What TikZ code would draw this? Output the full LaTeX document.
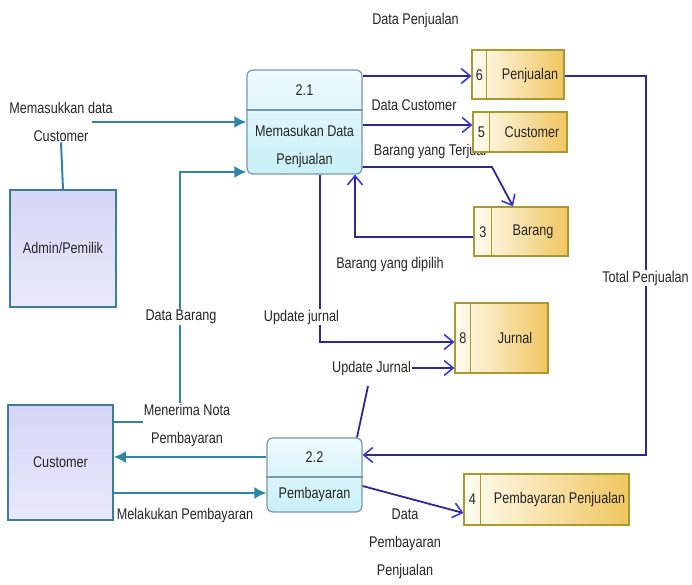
\documentclass[tikz,border=0pt]{standalone}
\usepackage{fontspec}
\setmainfont{Liberation Sans}[FakeStretch=0.815]
\usetikzlibrary{arrows.meta,calc}

\definecolor{flowteal}{HTML}{2F85A5}
\definecolor{flowblue}{HTML}{2A2A96}
\definecolor{tipblue}{HTML}{3A3AD6}
\definecolor{procline}{HTML}{7A98A8}
\definecolor{procTop}{HTML}{EEFBFE}
\definecolor{procBot}{HTML}{C8EFF7}
\definecolor{entline}{HTML}{3A7F95}
\definecolor{entTop}{HTML}{D4D6F6}
\definecolor{entBot}{HTML}{E8EAFA}
\definecolor{storeline}{HTML}{A89A30}
\definecolor{storeL}{HTML}{FFFDF2}
\definecolor{storeR}{HTML}{F0C660}

\tikzset{
  lbl/.style={font=\fontsize{15.5}{28}\selectfont, align=center, inner sep=1pt, text=black!85},
  lblbg/.style={lbl, fill=white},
  tealflow/.style={draw=flowteal, line width=2pt},
  tealarrow/.style={tealflow, -{Latex[length=12pt,width=12pt]}},
  blueflow/.style={draw=flowblue, line width=1.8pt},
  bluearrow/.style={blueflow, -{Straight Barb[length=9pt,width=15pt,line width=1.6pt,color=tipblue]}},
  process/.style={draw=procline, line width=1.2pt, rounded corners=6pt, top color=procTop, bottom color=procBot},
  divider/.style={draw=procline, line width=1.2pt},
  entity/.style={draw=entline, line width=1.6pt, top color=entTop, bottom color=entBot},
  store/.style={draw=storeline, line width=1.2pt, left color=storeL, right color=storeR},
  storediv/.style={draw=storeline, line width=1.2pt},
}

\begin{document}
\begin{tikzpicture}[x=1pt,y=-1pt]
\useasboundingbox[fill=white] (0,0) rectangle (692,585);

% ---------- processes ----------
\node[process, minimum width=115pt, minimum height=104pt] (p21) at (304.5,122) {};
\draw[divider] (p21.west |- 0,110) -- (p21.east |- 0,110);
\node[lbl] (p21id) at (304.5,90) {2.1};
\node[lbl] (p21name) at (304.5,146) {Memasukan Data\\Penjualan};

\node[process, minimum width=95pt, minimum height=74pt] (p22) at (314.5,475) {};
\draw[divider] (p22.west |- 0,477) -- (p22.east |- 0,477);
\node[lbl] (p22id) at (314.5,457) {2.2};
\node[lbl] (p22name) at (314.5,494) {Pembayaran};

% ---------- external entities ----------
\node[entity, minimum width=106pt, minimum height=117pt] (admin) at (63,248.5) {};
\node[lbl] (adminname) at (63,248) {Admin/Pemilik};

\node[entity, minimum width=105pt, minimum height=115pt] (cust) at (60.5,462.5) {};
\node[lbl] (custname) at (60.5,462) {Customer};

% ---------- labels drawn beneath the stores ----------
\node[lbl] (lblBT) at (430,151) {Barang yang Terjual};

% ---------- data stores ----------
\node[store, minimum width=92pt, minimum height=49pt] (s6) at (518,74.5) {};
\draw[storediv] ([xshift=15pt]s6.north west) -- ([xshift=15pt]s6.south west);
\node[lbl] (s6id) at (479.5,75) {6};
\node[lbl] (s6name) at (530,75) {Penjualan};

\node[store, minimum width=94pt, minimum height=40pt] (s5) at (520,132) {};
\draw[storediv] ([xshift=17pt]s5.north west) -- ([xshift=17pt]s5.south west);
\node[lbl] (s5id) at (481.5,132) {5};
\node[lbl] (s5name) at (532,132) {Customer};

\node[store, minimum width=94pt, minimum height=49pt] (s3) at (521,231.5) {};
\draw[storediv] ([xshift=18pt]s3.north west) -- ([xshift=18pt]s3.south west);
\node[lbl] (s3id) at (483,232) {3};
\node[lbl] (s3name) at (533,232) {Barang};

\node[store, minimum width=93pt, minimum height=70pt] (s8) at (501.5,338) {};
\draw[storediv] ([xshift=16pt]s8.north west) -- ([xshift=16pt]s8.south west);
\node[lbl] (s8id) at (463,338) {8};
\node[lbl] (s8name) at (515,338) {Jurnal};

\node[store, minimum width=165pt, minimum height=51pt] (s4) at (546.5,499.5) {};
\draw[storediv] ([xshift=17pt]s4.north west) -- ([xshift=17pt]s4.south west);
\node[lbl] (s4id) at (472.5,499) {4};
\node[lbl] (s4name) at (559.5,499) {Pembayaran Penjualan};

% ---------- labels ----------
\node[lbl] (lblMDC) at (61,121.5) {Memasukkan data\\Customer};
\node[lbl] (lblDP) at (415.5,20) {Data Penjualan};
\node[lbl] (lblDC) at (414,105) {Data Customer};
\node[lbl] (lblBD) at (390,264) {Barang yang dipilih};
\node[lbl] (lblMN) at (187,425) {Menerima Nota\\Pembayaran};
\node[lbl] (lblMP) at (185,515) {Melakukan Pembayaran};
\node[lbl] (lblUJ2) at (371.5,368) {Update Jurnal};

% ---------- bend and free-end points ----------
\coordinate (mdcOut) at (92,122);
\coordinate (dbTop) at (180,172);
\coordinate (btBend) at (492,167);
\coordinate (bdBend) at (355,237);
\coordinate (ujBend) at (320,342);
\coordinate (tpTop) at (646,76);
\coordinate (tpBot) at (646,455);
\coordinate (uj2Foot) at (368,386);

% ---------- teal flows ----------
\draw[tealflow] (admin.north) -- (lblMDC.south);
\draw[tealarrow] (mdcOut) -- (p21.west |- mdcOut);
\draw[tealflow] (cust.east |- 0,422) -- (lblMN.west |- 0,422);
\draw[tealarrow] (lblMN.north -| dbTop) -- (dbTop) -- (p21.west |- dbTop);
\draw[tealarrow] (p22.west |- 0,457) -- (cust.east |- 0,457);
\draw[tealarrow] (cust.east |- 0,493) -- (p22.west |- 0,493);

% ---------- blue flows ----------
\draw[bluearrow] (p21.east |- 0,76) -- (s6.west |- 0,76);
\draw[bluearrow] (p21.east |- 0,125) -- (s5.west |- 0,125);
\draw[bluearrow] (p21.east |- btBend) -- (btBend) -- (s3.north -| 513,0);
\draw[bluearrow] (s3.west |- bdBend) -- (bdBend) -- (p21.south -| bdBend);
\draw[bluearrow] (p21.south -| ujBend) -- (ujBend) -- (s8.west |- ujBend);
\draw[blueflow] (p22.north -| 357,0) -- (uj2Foot);
\draw[bluearrow] (lblUJ2.east) -- (s8.west |- lblUJ2.east);
\draw[bluearrow] (s6.east |- tpTop) -- (tpTop) -- (tpBot) -- (p22.east |- tpBot);
\draw[bluearrow] (p22.east |- 0,486) -- (s4.west |- 0,513);

% ---------- labels sitting on lines ----------
\node[lblbg] (lblDB) at (181,317) {Data Barang};
\node[lblbg] (lblUJ1) at (301.5,317) {Update jurnal};
\node[lblbg] (lblTP) at (645.5,278) {Total Penjualan};
\node[lblbg] (lblDPP) at (405,543.5) {Data\\Pembayaran\\Penjualan};
\end{tikzpicture}
\end{document}
